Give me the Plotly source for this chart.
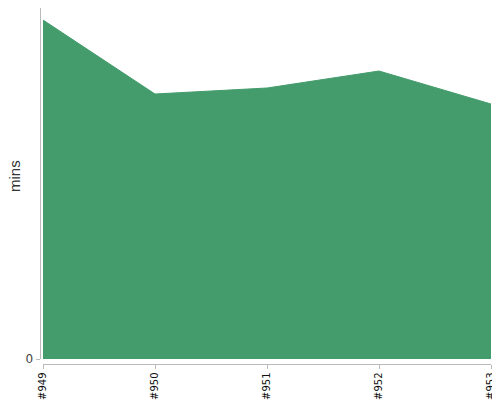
import plotly.graph_objects as go

builds = ["#949", "#950", "#951", "#952", "#953"]
mins = [33.9, 26.5, 27.1, 28.8, 25.5]

W, H = 492, 392
OFF = 8  # default page body margin
x_pos = list(range(len(builds)))

def px_x(p):
    return (p - OFF) / W

def px_y(p):
    return 1 - (p - OFF) / H

fig = go.Figure()
fig.add_trace(go.Scatter(
    x=x_pos, y=mins, mode="lines", fill="tozeroy",
    line=dict(color="#449c6c", width=1), fillcolor="#449c6c",
    hoverinfo="skip", showlegend=False,
))

fig.update_layout(
    width=W, height=H,
    margin=dict(l=0, r=0, t=0, b=0, autoexpand=False),
    paper_bgcolor="white", plot_bgcolor="white",
    font=dict(family="DejaVu Sans", color="#444"),
    xaxis=dict(
        domain=[px_x(43), px_x(491)], anchor="free", position=px_y(363.5),
        range=[0, len(builds) - 1], tickmode="array", tickvals=x_pos, ticktext=builds,
        tickangle=-90, showgrid=False, zeroline=False, showline=True,
        linecolor="#bbbbbb", linewidth=1, ticks="outside", ticklen=4, tickcolor="#bbbbbb",
        tickfont=dict(size=10, color="#111"), automargin=False,
        ticklabeloverflow="allow",
    ),
    yaxis=dict(
        domain=[px_y(359), 1.0], anchor="free", position=px_x(39.5),
        range=[0, 35.1], tickmode="array", tickvals=[0], ticktext=["0"],
        showgrid=False, zeroline=False, showline=True,
        linecolor="#bbbbbb", linewidth=1, ticks="outside", ticklen=4, tickcolor="#bbbbbb",
        tickfont=dict(size=12, color="#444"), automargin=False,
        ticklabeloverflow="allow",
    ),
    annotations=[dict(
        text="mins", x=px_x(14), y=px_y(176), xref="paper", yref="paper",
        xanchor="center", yanchor="middle", textangle=-90, showarrow=False,
        font=dict(family="Liberation Sans", size=15, color="#333"),
    )],
)

fig.write_html("out.html")
